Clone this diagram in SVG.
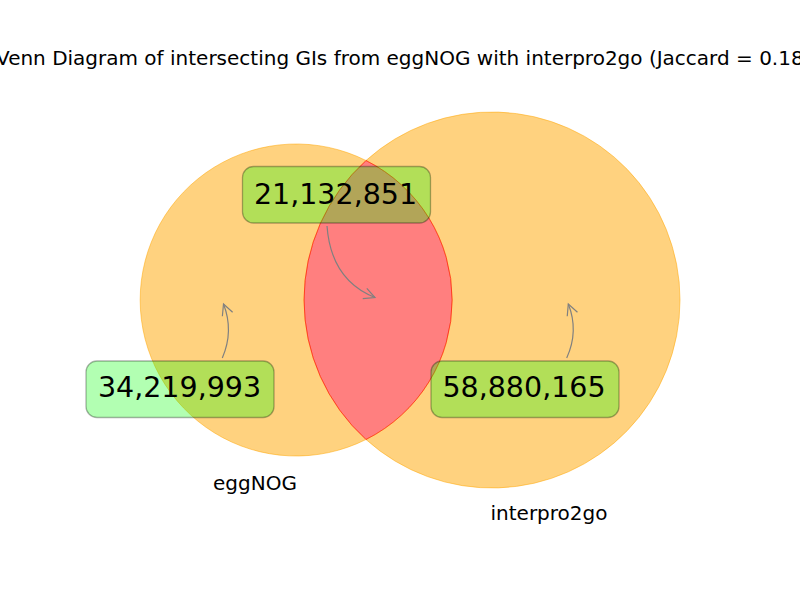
<svg xmlns="http://www.w3.org/2000/svg" width="800" height="600" viewBox="0 0 800 600">
<style>
  text { font-family: "DejaVu Sans", "Liberation Sans", sans-serif; fill: #000; }
  .title { font-size: 20px; }
  .setlabel { font-size: 20px; text-anchor: middle; }
  .num { font-size: 28.5px; text-anchor: middle; }
  .orange { fill: #ffa500; fill-opacity: 0.5; stroke: #ffa500; stroke-opacity: 0.5; stroke-width: 1; }
  .red { fill: #ff0000; fill-opacity: 0.5; stroke: #ff0000; stroke-opacity: 0.5; stroke-width: 1; }
  .box { fill: #00ff00; fill-opacity: 0.3; stroke: #000; stroke-opacity: 0.3; stroke-width: 1.3; }
  .conn { fill: none; stroke: #808080; stroke-width: 1.2; marker-end: url(#head); }
</style>
<defs>
  <marker id="head" markerUnits="userSpaceOnUse" markerWidth="16" markerHeight="16" refX="12" refY="6" orient="auto" viewBox="0 0 16 12">
    <path d="M1,0.5 L12,6 L1,11.5" fill="none" stroke="#808080" stroke-width="1.2"/>
  </marker>
</defs>
<rect width="800" height="600" fill="#fff"/>
<text class="title" x="-4" y="65">Venn Diagram of intersecting GIs from eggNOG with interpro2go (Jaccard = 0.18</text>

<g id="eggNOG-only">
  <path class="orange" d="M366,160.5 A156,156 0 1 0 366,439.5 A188,188 0 0 1 366,160.5 Z"/>
</g>
<g id="interpro2go-only">
  <path class="orange" d="M366,160.5 A188,188 0 1 1 366,439.5 A156,156 0 0 0 366,160.5 Z"/>
</g>
<g id="intersection">
  <path class="red" d="M366,160.5 A156,156 0 0 1 366,439.5 A188,188 0 0 1 366,160.5 Z"/>
</g>

<g id="label-eggNOG"><text class="setlabel" x="255" y="490">eggNOG</text></g>
<g id="label-interpro2go"><text class="setlabel" x="549" y="520">interpro2go</text></g>

<g id="connectors">
  <path class="conn" d="M327,226 Q331,280 375,297.5"/>
  <path class="conn" d="M222.3,358 Q234,331 223.5,304"/>
  <path class="conn" d="M566.7,358 Q579,331 568.3,304"/>
</g>

<g id="count-intersection">
  <rect class="box" x="242.5" y="166.5" width="188" height="56.5" rx="11"/>
  <text class="num" x="335.5" y="203.5">21,132,851</text>
</g>
<g id="count-eggNOG">
  <rect class="box" x="86" y="361" width="188" height="56.5" rx="11"/>
  <text class="num" x="179.5" y="397">34,219,993</text>
</g>
<g id="count-interpro2go">
  <rect class="box" x="431" y="361" width="188" height="56.5" rx="11"/>
  <text class="num" x="524" y="397">58,880,165</text>
</g>
</svg>
